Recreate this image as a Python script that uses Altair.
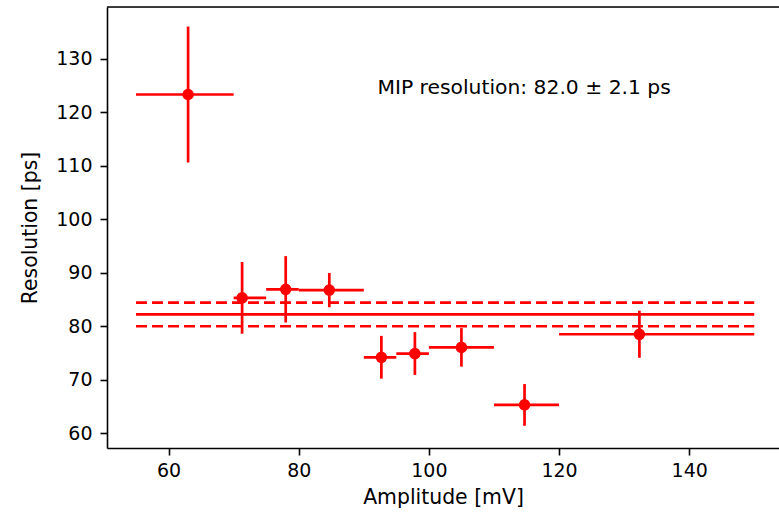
import altair as alt
import pandas as pd

# ---- data ----
amp = [63.0, 71.3, 78.0, 84.7, 92.7, 97.85, 105.0, 114.7, 132.35]
amp_lo = [55, 70, 75, 80, 90, 95, 100, 110, 120]
amp_hi = [70, 75, 80, 90, 95, 100, 110, 120, 150]
res = [123.3, 85.3, 86.9, 86.75, 74.2, 74.9, 76.05, 65.3, 78.5]
res_err = [12.7, 6.7, 6.2, 3.2, 4.0, 4.0, 3.6, 3.9, 4.4]

fit_range = [55, 150]
fit_value = 82.2
fit_err = 2.2
label_text = "MIP resolution: 82.0 \u00b1 2.1 ps"
label_pos = [92.1, 123.35]

x_ticks = [60, 80, 100, 120, 140]
y_ticks = [60, 70, 80, 90, 100, 110, 120, 130]
x_domain = [50.54, 153.8]
y_domain = [57.25, 139.65]

RED = "#ff0000"
FONT = "DejaVu Sans"

pts = pd.DataFrame({
    "amp": amp, "lo": amp_lo, "hi": amp_hi, "res": res,
    "rlo": [r - e for r, e in zip(res, res_err)],
    "rhi": [r + e for r, e in zip(res, res_err)],
})
fit = pd.DataFrame({
    "x": [fit_range[0]] * 3, "x2": [fit_range[1]] * 3,
    "y": [fit_value, fit_value - fit_err, fit_value + fit_err],
    "kind": ["fit", "lo", "hi"],
})
txt = pd.DataFrame({"x": [label_pos[0]], "y": [label_pos[1]], "t": [label_text]})
top = pd.DataFrame({"x": [x_domain[0]], "x2": [x_domain[1]], "y": [y_domain[1]]})

xs = alt.Scale(domain=x_domain, nice=False, zero=False)
ys = alt.Scale(domain=y_domain, nice=False, zero=False)

xaxis = alt.Axis(values=x_ticks, title="Amplitude [mV]", grid=False,
                 tickSize=7, tickWidth=1.6, tickColor="black",
                 domainColor="black", domainWidth=1.6,
                 labelFont=FONT, labelFontSize=19, labelColor="black", labelPadding=6,
                 titleFont=FONT, titleFontSize=20.4, titleFontWeight="normal",
                 titleColor="black", titlePadding=7)
yaxis = alt.Axis(values=y_ticks, title="Resolution [ps]", grid=False,
                 tickSize=7, tickWidth=1.6, tickColor="black",
                 domainColor="black", domainWidth=1.6,
                 labelFont=FONT, labelFontSize=19, labelColor="black", labelPadding=8,
                 titleFont=FONT, titleFontSize=20.4, titleFontWeight="normal",
                 titleColor="black", titlePadding=15)

base = alt.Chart(pts)

fit_solid = alt.Chart(fit[fit.kind == "fit"]).mark_rule(color=RED, strokeWidth=2.7).encode(
    x=alt.X("x:Q", scale=xs, axis=xaxis), x2="x2:Q",
    y=alt.Y("y:Q", scale=ys, axis=yaxis))
fit_dash = alt.Chart(fit[fit.kind != "fit"]).mark_rule(
    color=RED, strokeWidth=2.7, strokeDash=[11, 5]).encode(
    x=alt.X("x:Q", scale=xs), x2="x2:Q", y=alt.Y("y:Q", scale=ys))

xerr = base.mark_rule(color=RED, strokeWidth=2.7).encode(
    x=alt.X("lo:Q", scale=xs), x2="hi:Q", y=alt.Y("res:Q", scale=ys))
yerr = base.mark_rule(color=RED, strokeWidth=2.7).encode(
    x=alt.X("amp:Q", scale=xs), y=alt.Y("rlo:Q", scale=ys), y2="rhi:Q")
dots = base.mark_point(filled=True, color=RED, opacity=1, size=135).encode(
    x=alt.X("amp:Q", scale=xs), y=alt.Y("res:Q", scale=ys))

label = alt.Chart(txt).mark_text(align="left", baseline="alphabetic", font=FONT,
                                 fontSize=20.3, color="black").encode(
    x=alt.X("x:Q", scale=xs), y=alt.Y("y:Q", scale=ys), text="t:N")

# top spine of the frame
frame_top = alt.Chart(top).mark_rule(color="black", strokeWidth=1.6).encode(
    x=alt.X("x:Q", scale=xs), x2="x2:Q", y=alt.Y("y:Q", scale=ys))

chart = alt.layer(fit_solid, fit_dash, xerr, yerr, dots, label, frame_top).properties(
    width=672, height=441,
    autosize=alt.AutoSizeParams(type="none"),
    padding={"left": 107, "top": 7, "right": 0, "bottom": 65},
).configure_view(stroke=None).configure(background="white")

chart.save("out.html", embed_options={"renderer": "svg", "actions": False})
